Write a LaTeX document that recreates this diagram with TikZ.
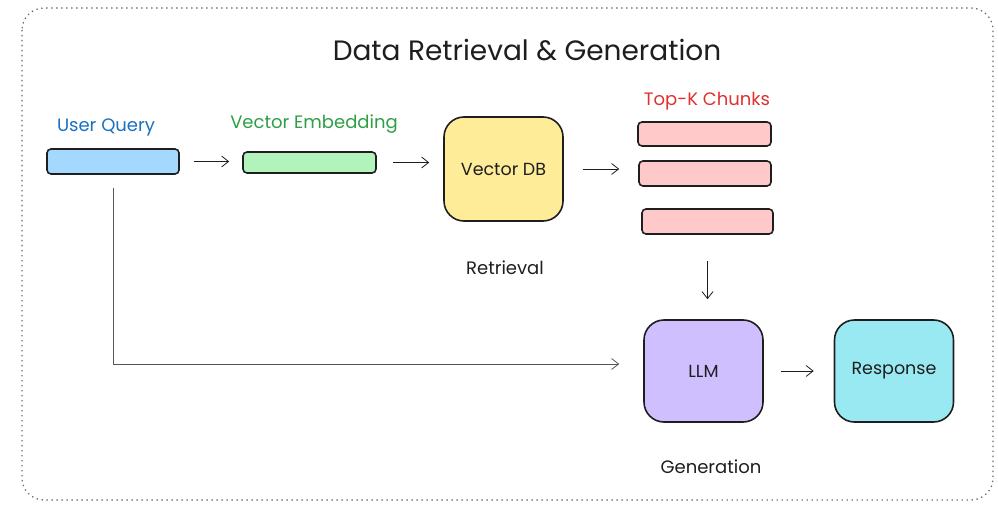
\documentclass[tikz,border=0pt]{standalone}
\usepackage{fontspec}
\setmainfont{Poppins}
\usetikzlibrary{arrows.meta}

\definecolor{ink}{HTML}{1E1E1E}
\definecolor{frame}{HTML}{6A6A6A}
\definecolor{bluefill}{HTML}{A5D8FF}
\definecolor{greenfill}{HTML}{B2F2BB}
\definecolor{yellowfill}{HTML}{FFEC99}
\definecolor{redfill}{HTML}{FFC9C9}
\definecolor{violetfill}{HTML}{D0BFFF}
\definecolor{cyanfill}{HTML}{99E9F2}
\definecolor{bluetext}{HTML}{1971C2}
\definecolor{greentext}{HTML}{2F9E44}
\definecolor{redtext}{HTML}{E03131}

\tikzset{
  bar/.style={draw=ink, line width=1.6pt, rounded corners=4pt, inner sep=0pt},
  bigbox/.style={draw=ink, line width=1.6pt, rounded corners=20pt, inner sep=0pt,
    minimum width=119pt, minimum height=102pt, font=\fontsize{17.5}{20}\selectfont, text=ink},
  caption/.style={font=\fontsize{18}{21}\selectfont, inner sep=0pt},
  flow/.style={draw=ink, line width=0.8pt, -{Straight Barb[length=7pt, width=11pt]}},
}

\begin{document}
\begin{tikzpicture}[x=1pt, y=-1pt]
  \useasboundingbox (0,0) rectangle (998,505);

  % outer dotted frame
  \draw[frame, line width=1.3pt, dash pattern=on 1.3pt off 3.7pt, rounded corners=22pt]
    (22,8) rectangle (993,500);

  % title
  \node[font=\fontsize{28}{32}\selectfont, text=ink] (title) at (527,50) {Data Retrieval \& Generation};

  % retrieval stage
  \node[bar, fill=bluefill, minimum width=132pt, minimum height=25pt] (uq) at (113,161.5) {};
  \node[caption, text=bluetext] (uqlabel) at (106,127) {User Query};

  \node[bar, fill=greenfill, minimum width=133pt, minimum height=21pt] (ve) at (309.5,162.5) {};
  \node[caption, text=greentext] (velabel) at (314,124) {Vector Embedding};

  \node[bigbox, fill=yellowfill, minimum height=104pt] (db) at (503.5,169) {Vector DB};
  \node[caption, text=ink] (retr) at (505,268) {Retrieval};

  \node[bar, fill=redfill, minimum width=133pt, minimum height=24pt] (c1) at (704.5,134) {};
  \node[bar, fill=redfill, minimum width=132pt, minimum height=25pt] (c2) at (705,173.5) {};
  \node[bar, fill=redfill, minimum width=131pt, minimum height=25pt] (c3) at (707.5,221.5) {};
  \node[caption, text=redtext] (topk) at (707,101) {Top-K Chunks};

  % generation stage
  \node[bigbox, fill=violetfill] (llm) at (703.5,371) {LLM};
  \node[bigbox, fill=cyanfill] (resp) at (894,371) {Response};
  \node[caption, text=ink] (gen) at (711,467) {Generation};

  % connectors
  \draw[flow, shorten <=14pt, shorten >=13pt] (uq.east) -- (uq.east -| ve.west);
  \draw[flow, shorten <=16pt, shorten >=14pt] (ve.east) -- (ve.east -| db.west);
  \draw[flow, shorten <=19pt, shorten >=19pt] (db.east) -- (db.east -| c2.west);
  \draw[flow, shorten <=26pt, shorten >=20pt] (c3.south) -- (c3.south |- llm.north);
  \draw[flow, shorten <=17pt, shorten >=20pt] (llm.east) -- (resp.west);
  \draw[flow, draw=ink!75, shorten <=13pt, shorten >=24pt] (uq.south) |- ([yshift=7pt]llm.west);
\end{tikzpicture}
\end{document}
